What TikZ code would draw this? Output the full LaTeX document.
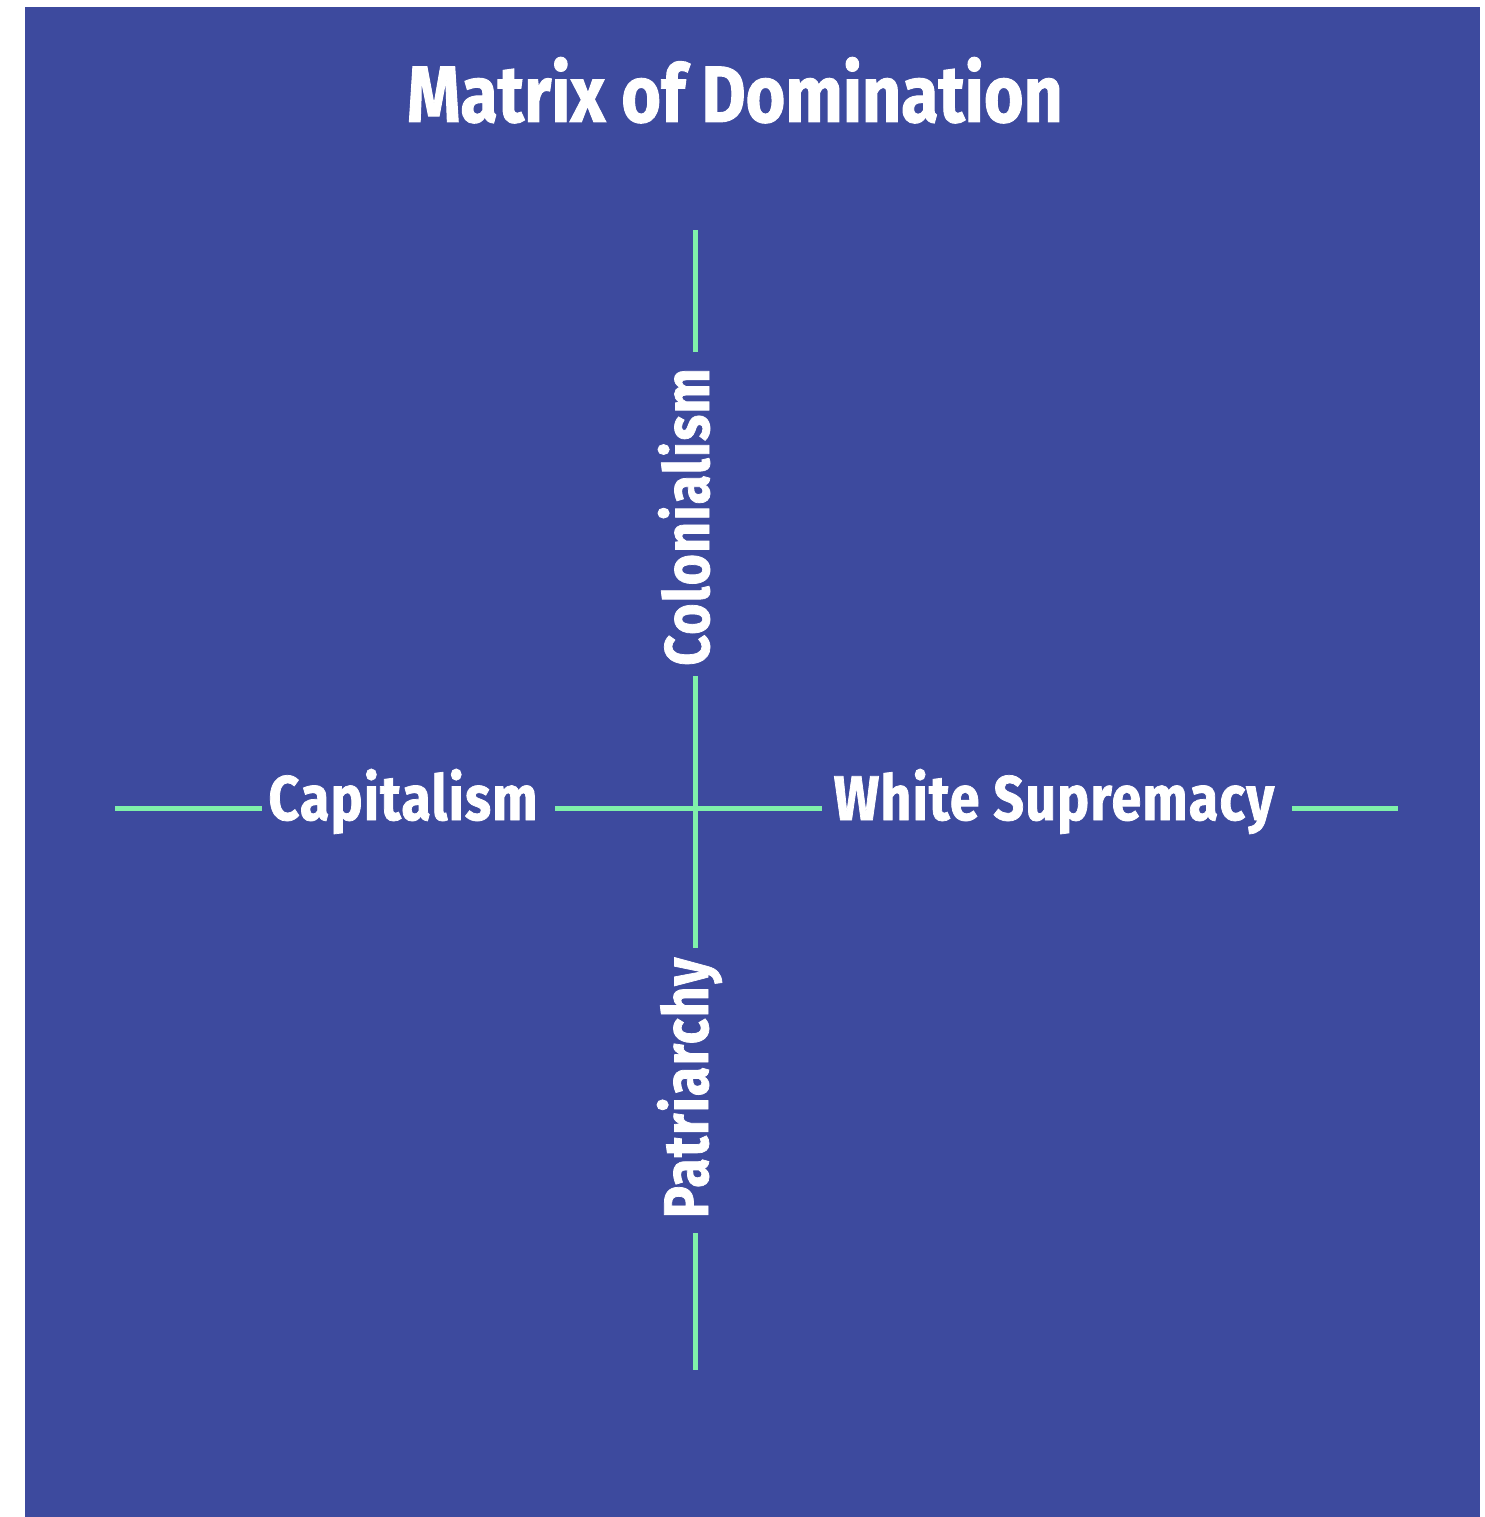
\documentclass[tikz,border=0pt]{standalone}
\usepackage{fontspec}
\newfontfamily\titlefont[FakeStretch=0.85,FakeBold=1.2]{Fira Sans Bold}
\newfontfamily\condfont[FakeStretch=0.85,FakeBold=1.2,LetterSpace=2]{Fira Sans Bold}
\definecolor{bgblue}{RGB}{61,74,158}
\definecolor{linegreen}{RGB}{128,240,170}
\begin{document}
\begin{tikzpicture}[x=1pt,y=-1pt,
  axis/.style={draw=linegreen,line width=5pt},
  lbl/.style={text=white,inner sep=0pt,anchor=base,font=\condfont\fontsize{63}{63}\selectfont}]
\useasboundingbox (0,0) rectangle (1484,1517);
\fill[white] (0,0) rectangle (1484,1517);
\fill[bgblue] (25,7) rectangle (1480,1517);
\node[text=white,inner sep=0pt,anchor=base,font=\titlefont\fontsize{80}{80}\selectfont] (title) at (735,122) {Matrix of Domination};
\node[lbl] (cap) at (403,820) {Capitalism};
\node[lbl] (ws) at (1054,820) {White Supremacy};
\node[lbl,rotate=90] (col) at (709,517) {Colonialism};
\node[lbl,rotate=90] (pat) at (708,1088) {Patriarchy};
\coordinate (c) at (695,808);
\coordinate (t1) at (695,230); \coordinate (t2) at (695,352);
\coordinate (t3) at (695,676);
\coordinate (b1) at (695,948); \coordinate (b2) at (695,1233); \coordinate (b3) at (695,1370);
\coordinate (l1) at (115,808); \coordinate (l2) at (262,808); \coordinate (l3) at (555,808);
\coordinate (r1) at (822,808); \coordinate (r2) at (1292,808); \coordinate (r3) at (1398,808);
\draw[axis] (t1) -- (t2);
\draw[axis] (t3) -- (b1);
\draw[axis] (b2) -- (b3);
\draw[axis] (l1) -- (l2);
\draw[axis] (l3) -- (r1);
\draw[axis] (r2) -- (r3);
\end{tikzpicture}
\end{document}
